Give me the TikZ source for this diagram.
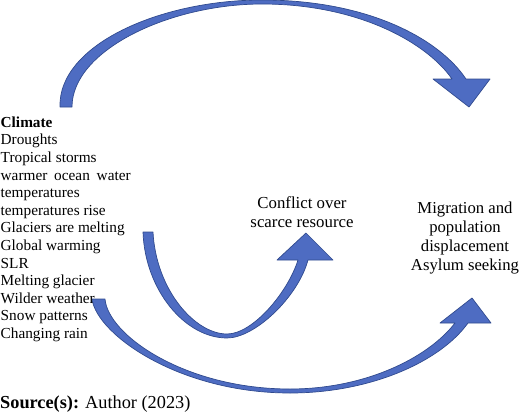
\documentclass[tikz,border=0pt]{standalone}
\usepackage{fontspec}
\setmainfont{Liberation Serif}
\definecolor{arrowfill}{RGB}{78,108,194}
\definecolor{arrowedge}{RGB}{48,74,142}
\begin{document}
\begin{tikzpicture}[x=1pt,y=-1pt,
  bandarrow/.style={fill=arrowfill,draw=arrowedge,line width=0.7pt,line join=round},
  lefttext/.style={inner sep=0pt,anchor=north west,align=left,font=\fontsize{15.3}{17.6}\selectfont},
  righttext/.style={inner sep=0pt,anchor=north,align=center,font=\fontsize{16.7}{19}\selectfont}]
\useasboundingbox (0,0) rectangle (520,413);

% top arrow: Climate -> Migration
\path[bandarrow] (60,107) .. controls (58,45) and (160,0) .. (262,0)
  .. controls (370,0) and (440,40) .. (466,79)
  -- (490,79) -- (469,107) -- (433,79) -- (452,79)
  .. controls (428,44) and (360,4) .. (262,4)
  .. controls (170,4) and (72,50) .. (72,107) -- cycle;

% middle U arrow: Climate -> Conflict
\path[bandarrow] (143,232) .. controls (145,290) and (185,338) .. (227,338)
  .. controls (255,338) and (298,297) .. (308,260)
  -- (333,260) -- (306,233) -- (277,260) -- (298,260)
  .. controls (288,292) and (253,334) .. (227,334)
  .. controls (195,334) and (156,290) .. (153,232) -- cycle;

% bottom arrow: Climate -> Migration
\path[bandarrow] (92,299) .. controls (97,335) and (180,393) .. (290,393)
  .. controls (370,393) and (440,362) .. (468,323)
  -- (491,323) -- (472,298) -- (440,323) -- (455,323)
  .. controls (428,358) and (365,389) .. (290,389)
  .. controls (185,389) and (108,335) .. (105,299) -- cycle;

\node[lefttext] (climate) at (0.5,116.5) {\textbf{Climate}\\Droughts\\Tropical storms\\
  \makebox[130pt][s]{warmer ocean water}\\temperatures\\temperatures rise\\
  Glaciers are melting\\Global warming\\SLR\\Melting glacier\\Wilder weather\\
  Snow patterns\\Changing rain};

\node[righttext,font=\fontsize{16.8}{19}\selectfont] (conflict) at (302,196.5) {Conflict over\\scarce resource};

\node[righttext] (migration) at (465,201.6) {Migration and\\population\\displacement\\Asylum seeking};

\node[inner sep=0pt,anchor=base west,font=\fontsize{18.3}{20}\selectfont] (source) at (0,408)
  {\textbf{Source(s):} Author (2023)};
\end{tikzpicture}
\end{document}
